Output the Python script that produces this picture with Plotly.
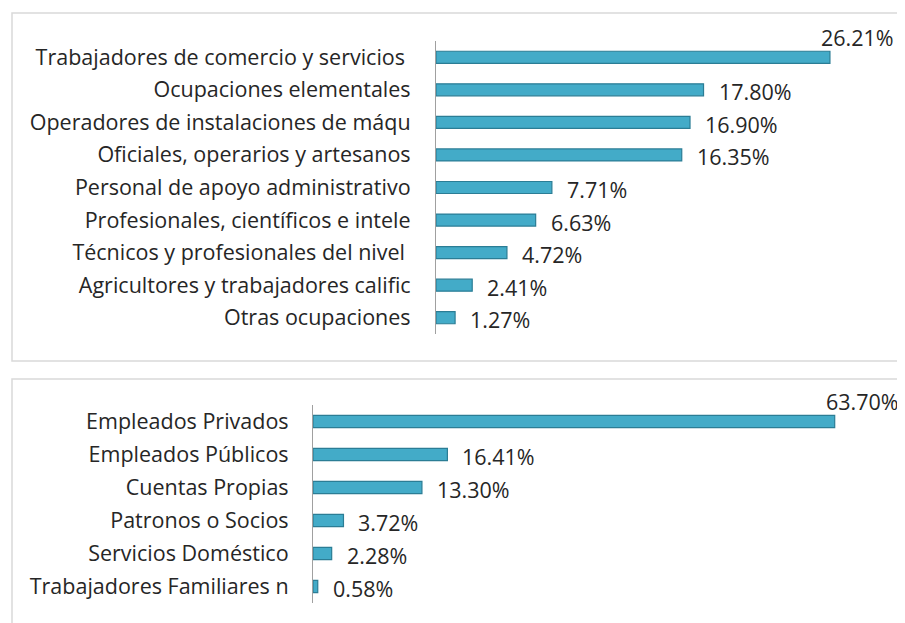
import plotly.graph_objects as go

ocupaciones = [
    "Trabajadores de comercio y servicios ",
    "Ocupaciones elementales",
    "Operadores de instalaciones de máqu",
    "Oficiales, operarios y artesanos",
    "Personal de apoyo administrativo",
    "Profesionales, científicos e intele",
    "Técnicos y profesionales del nivel ",
    "Agricultores y trabajadores calific",
    "Otras ocupaciones",
]
ocupaciones_pct = [26.21, 17.80, 16.90, 16.35, 7.71, 6.63, 4.72, 2.41, 1.27]

categorias = [
    "Empleados Privados",
    "Empleados Públicos",
    "Cuentas Propias",
    "Patronos o Socios",
    "Servicios Doméstico",
    "Trabajadores Familiares n",
]
categorias_pct = [63.70, 16.41, 13.30, 3.72, 2.28, 0.58]

OFF = 8  # page body margin
W, H = 905 - OFF, 623 - OFF
FONT = "Open Sans"
FS = 21.5
TXT = "#262626"
FILL = "#43abc8"
EDGE = "#2b7d95"

fig = go.Figure()
fig.add_trace(go.Bar(x=ocupaciones_pct, y=ocupaciones, orientation="h",
                     marker=dict(color=FILL, line=dict(color=EDGE, width=1.2)),
                     width=0.37, xaxis="x", yaxis="y", hoverinfo="skip"))
fig.add_trace(go.Bar(x=categorias_pct, y=categorias, orientation="h",
                     marker=dict(color=FILL, line=dict(color=EDGE, width=1.2)),
                     width=0.37, xaxis="x2", yaxis="y2", hoverinfo="skip"))

def px_x(p):
    return (p - OFF) / W

def px_y(p):
    return 1 - (p - OFF) / H

axis_common = dict(showgrid=False, zeroline=False, fixedrange=True)
fig.update_layout(
    width=W, height=H, margin=dict(l=0, r=0, t=0, b=0),
    paper_bgcolor="white", plot_bgcolor="white", showlegend=False,
    font=dict(family=FONT, size=FS, color=TXT),
    xaxis=dict(domain=[px_x(436), 1], range=[0, (W + OFF - 436) / 15.03],
               visible=False, **axis_common),
    yaxis=dict(domain=[px_y(334), px_y(41)], anchor="x", autorange="reversed",
               showline=True, linecolor="#a0a0a0", linewidth=1.2, ticks="",
               ticklabelstandoff=20, tickfont=dict(family=FONT, size=FS, color=TXT),
               **axis_common),
    xaxis2=dict(domain=[px_x(313), 1], range=[0, (W + OFF - 313) / 8.19],
                visible=False, anchor="y2", **axis_common),
    yaxis2=dict(domain=[px_y(603), px_y(405)], anchor="x2", autorange="reversed",
                showline=True, linecolor="#a0a0a0", linewidth=1.2, ticks="",
                ticklabelstandoff=19, tickfont=dict(family=FONT, size=FS, color=TXT),
                **axis_common),
)

annotations = []
for xs, ys, xa, ya in [(ocupaciones_pct, ocupaciones, "x", "y"),
                       (categorias_pct, categorias, "x2", "y2")]:
    top = max(xs)
    for v, c in zip(xs, ys):
        if v == top:
            annotations.append(dict(x=v, y=c, xref=xa, yref=ya, text=f"{v:.2f}%",
                                    showarrow=False, xanchor="left", yanchor="middle",
                                    xshift=-11, yshift=20,
                                    font=dict(family=FONT, size=FS, color=TXT)))
        else:
            annotations.append(dict(x=v, y=c, xref=xa, yref=ya, text=f"{v:.2f}%",
                                    showarrow=False, xanchor="left", yanchor="middle",
                                    xshift=13, yshift=-2,
                                    font=dict(family=FONT, size=FS, color=TXT)))
fig.update_layout(annotations=annotations)

shapes = [
    dict(type="rect", xref="paper", yref="paper",
         x0=px_x(12), x1=px_x(W + OFF + 5), y0=px_y(361), y1=px_y(13),
         line=dict(color="#d9d9d9", width=1.5), fillcolor="rgba(0,0,0,0)", layer="below"),
    dict(type="rect", xref="paper", yref="paper",
         x0=px_x(12), x1=px_x(W + OFF + 5), y0=px_y(H + OFF + 5), y1=px_y(379),
         line=dict(color="#d9d9d9", width=1.5), fillcolor="rgba(0,0,0,0)", layer="below"),
]
fig.update_layout(shapes=shapes)

fig.write_html("out.html")
